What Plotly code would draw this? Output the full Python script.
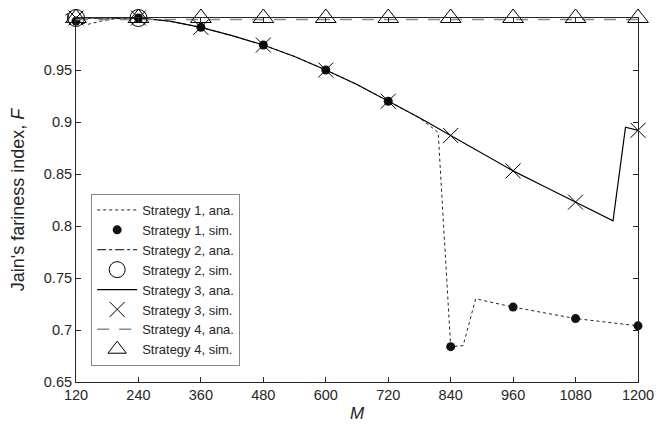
import plotly.graph_objects as go

# ---- data ----
M_sim = [120, 240, 360, 480, 600, 720, 840, 960, 1080, 1200]

s1_ana_M = [120, 144, 168, 192, 216, 240, 300, 360, 420, 480, 540, 600, 660, 720, 780, 816, 840, 864, 888, 960, 1080, 1200]
s1_ana_F = [0.996, 0.994, 0.997, 0.999, 1.0, 1.0, 0.997, 0.991, 0.983, 0.974, 0.963, 0.950, 0.936, 0.920, 0.904, 0.890, 0.684, 0.685, 0.730, 0.722, 0.711, 0.704]
s1_sim_F = [0.997, 1.0, 0.991, 0.974, 0.950, 0.920, 0.684, 0.722, 0.711, 0.704]

s2_ana_M = [120, 240]
s2_ana_F = [1.0, 1.0]
s2_sim_M = [120, 240]
s2_sim_F = [1.0, 1.0]

s3_ana_M = [120, 240, 300, 360, 420, 480, 540, 600, 660, 720, 780, 840, 900, 960, 1020, 1080, 1152, 1176, 1200]
s3_ana_F = [1.0, 1.0, 0.997, 0.991, 0.983, 0.974, 0.963, 0.950, 0.936, 0.920, 0.904, 0.887, 0.870, 0.853, 0.838, 0.823, 0.805, 0.895, 0.892]
s3_sim_F = [1.0, 1.0, 0.991, 0.974, 0.950, 0.920, 0.887, 0.853, 0.823, 0.892]

s4_ana_M = [120, 1200]
s4_ana_F = [0.9985, 0.9985]
s4_sim_F = [1.0, 1.0, 1.0, 1.0, 1.0, 1.0, 1.0, 1.0, 1.0, 1.0]

x_ticks = [120, 240, 360, 480, 600, 720, 840, 960, 1080, 1200]
y_ticks = [0.65, 0.7, 0.75, 0.8, 0.85, 0.9, 0.95, 1.0]
y_ticktext = ["0.65", "0.7", "0.75", "0.8", "0.85", "0.9", "0.95", "1"]

names = ["Strategy 1, ana.", "Strategy 1, sim.", "Strategy 2, ana.", "Strategy 2, sim.",
         "Strategy 3, ana.", "Strategy 3, sim.", "Strategy 4, ana.", "Strategy 4, sim."]

ink = "#000000"
FONT = "Liberation Sans, Arial, sans-serif"
fig = go.Figure()

fig.add_trace(go.Scatter(x=s1_ana_M, y=s1_ana_F, mode="lines", name=names[0],
                         line=dict(color="#222222", width=1, dash="dot")))
fig.add_trace(go.Scatter(x=M_sim, y=s1_sim_F, mode="markers", name=names[1], cliponaxis=False,
                         marker=dict(symbol="circle", size=9, color="#111111")))
fig.add_trace(go.Scatter(x=s2_ana_M, y=s2_ana_F, mode="lines", name=names[2],
                         line=dict(color=ink, width=1, dash="dashdot")))
fig.add_trace(go.Scatter(x=s2_sim_M, y=s2_sim_F, mode="markers", name=names[3], cliponaxis=False,
                         marker=dict(symbol="circle-open", size=17, color=ink, line=dict(width=1))))
fig.add_trace(go.Scatter(x=s3_ana_M, y=s3_ana_F, mode="lines", name=names[4],
                         line=dict(color=ink, width=1.2)))
fig.add_trace(go.Scatter(x=M_sim, y=s3_sim_F, mode="markers", name=names[5], cliponaxis=False,
                         marker=dict(symbol="x-thin-open", size=15, color=ink, line=dict(width=1, color=ink))))
fig.add_trace(go.Scatter(x=s4_ana_M, y=s4_ana_F, mode="lines", name=names[6],
                         line=dict(color="#888888", width=1.5, dash="12px,10px")))
fig.add_trace(go.Scatter(x=M_sim, y=s4_sim_F, mode="markers", name=names[7], cliponaxis=False,
                         marker=dict(symbol="triangle-up-open", size=18, color=ink, line=dict(width=1))))

axis_common = dict(showline=True, linecolor="#262626", linewidth=1, mirror="ticks",
                   ticks="inside", ticklen=5, tickcolor="#262626", showgrid=False, zeroline=False,
                   tickfont=dict(family=FONT, size=14.5, color="#262626"))

fig.update_xaxes(range=[120, 1200], tickvals=x_ticks, ticktext=[str(v) for v in x_ticks],
                 automargin=True,
                 title=dict(text="<i>M</i>", standoff=4,
                            font=dict(family=FONT, size=17, color="#262626")),
                 **axis_common)
fig.update_yaxes(range=[0.65, 1.0], tickvals=y_ticks, ticktext=y_ticktext,
                 automargin=False,
                 title=dict(text="Jain's fariness index, <i>F</i>",
                            font=dict(family=FONT, size=18, color="#262626")),
                 **axis_common)

# page body has an 8px margin, so the figure is sized/offset to land the plot where the reference has it
fig.update_layout(
    width=662, height=427,
    margin=dict(l=68, r=32, t=10, b=53),
    plot_bgcolor="white", paper_bgcolor="white",
    showlegend=True,
    legend=dict(x=0.027, y=0.044, xanchor="left", yanchor="bottom",
                bgcolor="white", bordercolor="#888888", borderwidth=1,
                font=dict(family=FONT, size=13, color="#262626"),
                tracegroupgap=0, itemwidth=40),
)

fig.write_html("out.html")
